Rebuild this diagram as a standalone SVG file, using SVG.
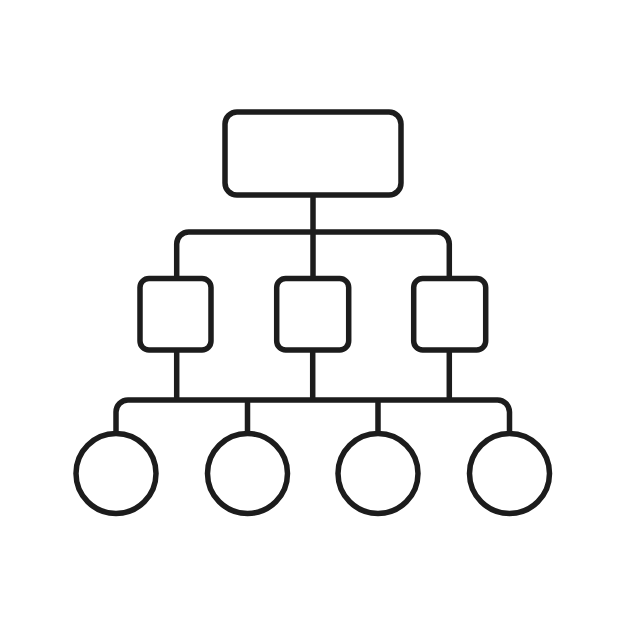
<svg xmlns="http://www.w3.org/2000/svg" width="626" height="626" viewBox="0 0 626 626">
<style>
.s{fill:#fff;stroke:#1c1c1c;stroke-width:5.5}
.c{fill:none;stroke:#1c1c1c;stroke-width:5.5;stroke-linejoin:round}
</style>
<rect width="626" height="626" fill="#fff"/>
<g id="connectors">
<path class="c" d="M313 195V278.5"/>
<path class="c" d="M176.7 278.5V244a12 12 0 0 1 12-12H437.3a12 12 0 0 1 12 12V278.5"/>
<path class="c" d="M176.7 350V400M312.7 350V400M449.3 350V400"/>
<path class="c" d="M116 433.5V412a12 12 0 0 1 12-12H497.5a12 12 0 0 1 12 12V433.5"/>
<path class="c" d="M247.5 400V433.5M378 400V433.5"/>
</g>
<g id="root"><rect class="s" x="225" y="112" width="176" height="83" rx="12"/></g>
<g id="mid1"><rect class="s" x="140" y="278.5" width="71" height="71.5" rx="9"/></g>
<g id="mid2"><rect class="s" x="276.7" y="278.5" width="72" height="71.5" rx="9"/></g>
<g id="mid3"><rect class="s" x="413.7" y="278.5" width="72" height="71.5" rx="9"/></g>
<g id="leaf1"><circle class="s" cx="116" cy="473.5" r="40"/></g>
<g id="leaf2"><circle class="s" cx="247.5" cy="473.5" r="40"/></g>
<g id="leaf3"><circle class="s" cx="378" cy="473.5" r="40"/></g>
<g id="leaf4"><circle class="s" cx="509.5" cy="473.5" r="40"/></g>
</svg>
